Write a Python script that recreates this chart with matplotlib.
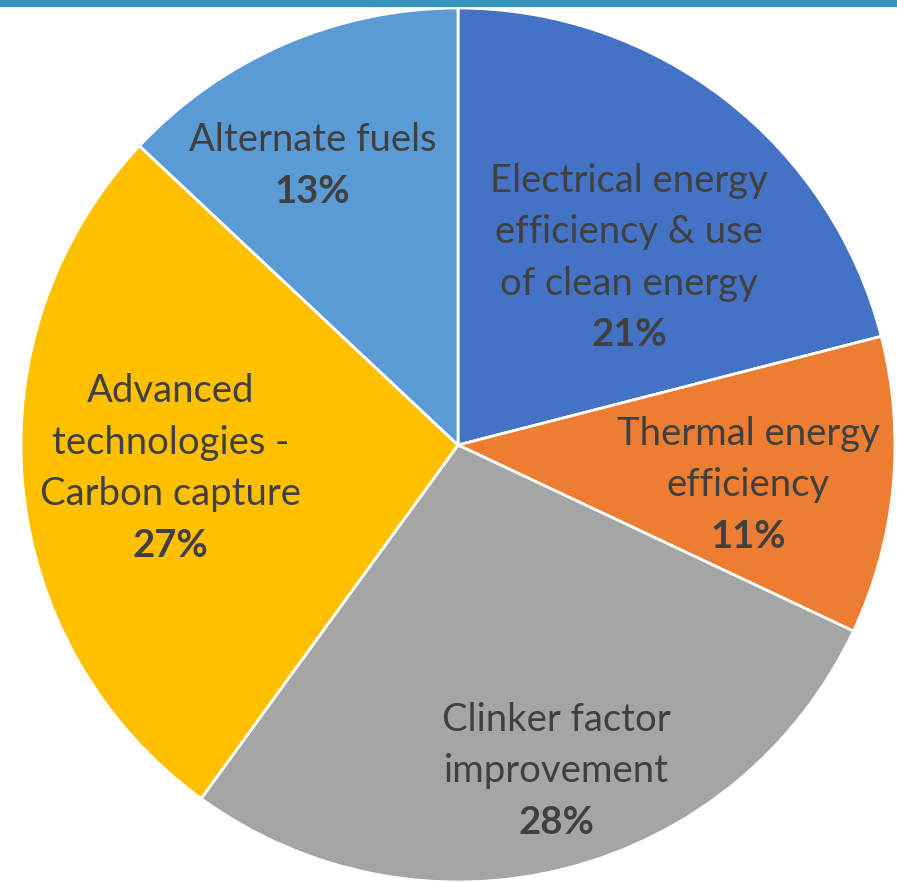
import numpy as np
import matplotlib.pyplot as plt
from matplotlib.patches import Rectangle

# Share of CO2 reduction by lever
labels = ['Electrical energy\nefficiency & use\nof clean energy',
          'Thermal energy\nefficiency',
          'Clinker factor\nimprovement',
          'Advanced\ntechnologies -\nCarbon capture',
          'Alternate fuels']
shares = [21, 11, 28, 27, 13]
colors = ['#4472C4', '#ED7D31', '#A5A5A5', '#FFC000', '#5B9BD5']

# label placement: (radius fraction, angle in degrees)
label_pos = [(0.58, 47.6), (0.67, -7.9), (0.78, -73.2), (0.66, -175.3), (0.72, 117.5)]

plt.rcParams['font.family'] = ['Lato', 'DejaVu Sans']
txt_color = '#404040'

fig = plt.figure(figsize=(8.97, 8.82), dpi=100)
fig.patches.append(Rectangle((0, 1 - 6 / 882), 1, 6 / 882, transform=fig.transFigure,
                             color='#3494BA', zorder=10))

ax = fig.add_axes([21 / 897, 0, 874 / 897, 874 / 882])
ax.pie(shares, colors=colors, startangle=90, counterclock=False,
       wedgeprops=dict(edgecolor='white', linewidth=2))
ax.set_xlim(-1, 1)
ax.set_ylim(-1, 1)
ax.set_aspect('equal')
ax.axis('off')

lh = 51.5 / 437
for lab, val, (r, a) in zip(labels, shares, label_pos):
    x = r * np.cos(np.radians(a))
    y = r * np.sin(np.radians(a))
    lines = lab.split('\n')
    top = y + (len(lines) + 1) * lh / 2
    for i, line in enumerate(lines):
        ax.text(x, top - (i + 0.5) * lh, line, ha='center', va='center',
                fontsize=27.5, color=txt_color)
    ax.text(x, top - (len(lines) + 0.5) * lh, f'{val}%', ha='center', va='center',
            fontsize=27.5, fontweight='bold', color=txt_color)

fig.savefig('out.png', dpi=100)
